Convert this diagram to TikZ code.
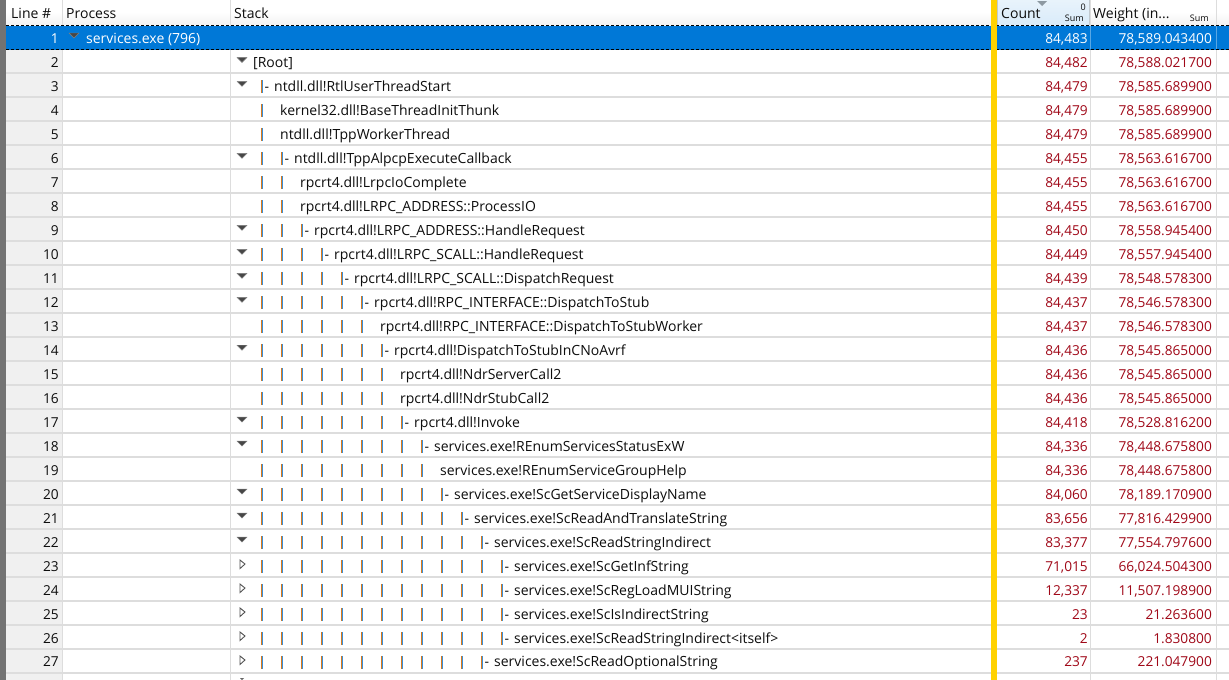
\documentclass[tikz,border=0pt]{standalone}
\usepackage{fontspec}
\setmainfont{Open Sans}
\definecolor{selblue}{HTML}{0078D7}
\definecolor{gridgray}{HTML}{DDDDDD}
\definecolor{numgray}{HTML}{F0F0F0}
\definecolor{hdrgray}{HTML}{F2F2F2}
\definecolor{sortblue}{HTML}{D9EBF9}
\definecolor{markgold}{HTML}{FFD200}
\definecolor{sumred}{HTML}{A00818}
\definecolor{barorange}{HTML}{D97A1E}
\definecolor{barblue}{HTML}{3A8FD8}
\newcommand{\rowy}[1]{37.5+23.98*(#1-1)}
\tikzset{
  celltext/.style={inner sep=0pt,text=black!95,font=\fontsize{14}{16}\selectfont},
  lefttext/.style={celltext,anchor=base west},
  righttext/.style={celltext,anchor=base east,font=\fontsize{13.7}{16}\selectfont},
  sumtext/.style={righttext,text=sumred},
  smalltext/.style={celltext,anchor=base east,font=\fontsize{9}{11}\selectfont},
  opentri/.style={fill=black!72,draw=black!50,line width=0.4pt},
  closedtri/.style={fill=white,draw=black!68,line width=0.9pt},
}
\begin{document}
\begin{tikzpicture}[x=1pt,y=-1pt]
  \useasboundingbox (0,0) rectangle (1229,680);
  \fill[white] (0,0) rectangle (1229,680);
  \fill[numgray] (6,25) rectangle (62,680);
  \fill[top color=white,bottom color=hdrgray,middle color=white] (6,0) rectangle (1229,25);
  \fill[top color=sortblue!60,bottom color=sortblue] (997,0) rectangle (1090,25);
  \draw[sortblue!70!black!60] (997.5,0) -- (997.5,25) (1089.5,0) -- (1089.5,25);
  \fill[black!55] (0,0) rectangle (6,680);
  \foreach \k in {2,...,28} {
    \pgfmathsetmacro{\yl}{round(49.5+23.98*(\k-1))}
    \draw[gridgray,line width=1.5pt] (6,\yl) -- (1229,\yl);
  }
  \foreach \xc in {62,230,1090,1216}
    \draw[gridgray,line width=1pt] (\xc+0.5,0) -- (\xc+0.5,680);
  \fill[selblue] (6,25.5) rectangle (1229,49.5);
  \draw[black,densely dashed,line width=1.2pt] (6,25.5) -- (1229,25.5) (6,49.5) -- (1229,49.5);
  \foreach \xc in {1090,1216}
    \draw[white,opacity=0.35] (\xc+0.5,26) -- (\xc+0.5,49);
  \fill[markgold] (991,0) rectangle (997,680);
  \node[lefttext] (hdrline) at (11,18) {Line \#};
  \node[lefttext] (hdrproc) at (66,18) {Process};
  \node[lefttext] (hdrstack) at (234,18) {Stack};
  \node[lefttext] (hdrcount) at (1001,18) {Count};
  \node[lefttext] (hdrweight) at (1093,18) {Weight (in...};
  \node[smalltext] (sumcount) at (1084,21.5) {Sum};
  \node[smalltext] (sumweight) at (1209,21.5) {Sum};
  \node[smalltext] (sortzero) at (1086,10) {0};
  \fill[black!35!sortblue] (1037,1) -- (1047,1) -- (1042,6) -- cycle;
  \node[righttext,text=white] (line1) at (59,43.5) {1};
  \node[lefttext,text=white] (proc1) at (86,43.5) {services.exe (796)};
  \node[righttext,text=white] (count1) at (1088,43.5) {84,483};
  \node[righttext,text=white] (weight1) at (1212,43.5) {78,589.043400};
  \draw[opentri] (69,33) -- (79,33) -- (74,38) -- cycle;
  \foreach \n/\tri/\nb/\kind/\txt/\cnt/\wgt in {
    2/o/0/r/{[Root]}/{84,482}/{78,588.021700},
    3/o/1/d/{ntdll.dll!RtlUserThreadStart}/{84,479}/{78,585.689900},
    4/n/1/p/{kernel32.dll!BaseThreadInitThunk}/{84,479}/{78,585.689900},
    5/n/1/p/{ntdll.dll!TppWorkerThread}/{84,479}/{78,585.689900},
    6/o/2/d/{ntdll.dll!TppAlpcpExecuteCallback}/{84,455}/{78,563.616700},
    7/n/2/p/{rpcrt4.dll!LrpcIoComplete}/{84,455}/{78,563.616700},
    8/n/2/p/{rpcrt4.dll!LRPC\_ADDRESS::ProcessIO}/{84,455}/{78,563.616700},
    9/o/3/d/{rpcrt4.dll!LRPC\_ADDRESS::HandleRequest}/{84,450}/{78,558.945400},
    10/o/4/d/{rpcrt4.dll!LRPC\_SCALL::HandleRequest}/{84,449}/{78,557.945400},
    11/o/5/d/{rpcrt4.dll!LRPC\_SCALL::DispatchRequest}/{84,439}/{78,548.578300},
    12/o/6/d/{rpcrt4.dll!RPC\_INTERFACE::DispatchToStub}/{84,437}/{78,546.578300},
    13/n/6/p/{rpcrt4.dll!RPC\_INTERFACE::DispatchToStubWorker}/{84,437}/{78,546.578300},
    14/o/7/d/{rpcrt4.dll!DispatchToStubInCNoAvrf}/{84,436}/{78,545.865000},
    15/n/7/p/{rpcrt4.dll!NdrServerCall2}/{84,436}/{78,545.865000},
    16/n/7/p/{rpcrt4.dll!NdrStubCall2}/{84,436}/{78,545.865000},
    17/o/8/d/{rpcrt4.dll!Invoke}/{84,418}/{78,528.816200},
    18/o/9/d/{services.exe!REnumServicesStatusExW}/{84,336}/{78,448.675800},
    19/n/9/p/{services.exe!REnumServiceGroupHelp}/{84,336}/{78,448.675800},
    20/o/10/d/{services.exe!ScGetServiceDisplayName}/{84,060}/{78,189.170900},
    21/o/11/d/{services.exe!ScReadAndTranslateString}/{83,656}/{77,816.429900},
    22/o/12/d/{services.exe!ScReadStringIndirect}/{83,377}/{77,554.797600},
    23/c/13/d/{services.exe!ScGetInfString}/{71,015}/{66,024.504300},
    24/c/13/d/{services.exe!ScRegLoadMUIString}/{12,337}/{11,507.198900},
    25/c/13/d/{services.exe!ScIsIndirectString}/{23}/{21.263600},
    26/c/13/d/{services.exe!ScReadStringIndirect<itself>}/{2}/{1.830800},
    27/c/12/d/{services.exe!ScReadOptionalString}/{237}/{221.047900}} {
    \pgfmathsetmacro{\yc}{\rowy{\n}}
    \pgfmathsetmacro{\yb}{\yc+6}
    \node[righttext] (line\n) at (59,\yb) {\n};
    \node[sumtext] (count\n) at (1088,\yb) {\cnt};
    \node[sumtext] (weight\n) at (1212,\yb) {\wgt};
    \if o\tri
      \draw[opentri] (237,\yc-4) -- (247,\yc-4) -- (242,\yc+1) -- cycle;
    \fi
    \if c\tri
      \draw[closedtri] (240,\yc-5) -- (245,\yc-1) -- (240,\yc+3.5) -- cycle;
    \fi
    \ifnum\nb>0
      \foreach \i in {1,...,\nb} {
        \pgfmathsetmacro{\xb}{262+20*(\i-1)}
        \draw[barblue,line width=1pt] (\xb+0.5,\yc-5) -- (\xb+0.5,\yc+8);
        \draw[barorange,line width=1.1pt] (\xb-0.5,\yc-5) -- (\xb-0.5,\yc+8);
      }
    \fi
    \if r\kind
      \node[lefttext] (stack\n) at (253,\yb) {\txt};
    \fi
    \if p\kind
      \pgfmathsetmacro{\xt}{262+20*\nb-2}
      \node[lefttext] (stack\n) at (\xt,\yb) {\txt};
    \fi
    \if d\kind
      \pgfmathsetmacro{\xt}{262+20*(\nb-1)+12}
      \node[lefttext] (stack\n) at (\xt,\yb) {\llap{-\hspace{5pt}}\txt};
    \fi
  }
  \fill[black!60] (240,678) -- (244,678) -- (242,680) -- cycle;
\end{tikzpicture}
\end{document}
